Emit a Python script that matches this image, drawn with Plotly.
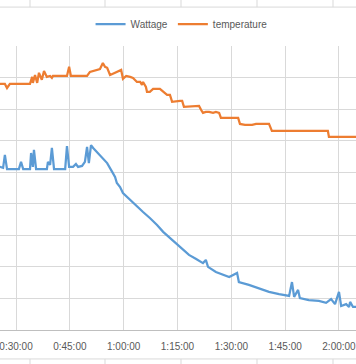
import plotly.graph_objects as go

# time in minutes since start
temp_time = [24.4, 25.5, 26.9, 27.5, 28.3, 33.9, 34.5, 34.7, 35.3, 35.9, 36.4,
             37.2, 37.8, 38.6, 39.5, 40.0, 40.3, 44.2, 44.8, 45.3, 49.8,
             50.6, 53.4, 54.2, 54.8, 55.4, 56.2, 57.0, 59.3, 59.8, 60.7,
             61.8, 62.6, 63.7, 64.6, 65.1, 65.4, 66.2, 66.5, 67.3, 68.2,
             70.1, 72.1, 72.9, 73.5, 75.7, 76.3, 76.8, 79.6, 81.0, 81.6,
             82.1, 82.9, 83.8, 84.9, 85.7, 86.6, 87.1, 91.9, 92.4, 93.8,
             95.8, 96.9, 98.0, 100.5, 101.3, 116.9, 117.2, 124.7, 125.9]
temperature = [78.0, 78.0, 78.0, 76.7, 78.0, 78.0, 80.2, 78.3, 80.8, 78.3, 81.5,
               79.3, 82.1, 80.2, 80.5, 79.9, 80.5, 80.5, 83.4, 80.5, 80.5,
               81.8, 82.7, 84.6, 83.4, 83.1, 80.8, 81.2, 82.4, 79.6, 80.5,
               80.2, 79.9, 78.6, 78.6, 77.7, 78.6, 77.0, 75.5, 75.5, 76.4,
               76.4, 74.5, 74.5, 72.3, 72.6, 72.6, 70.7, 71.0, 71.0, 69.7,
               68.8, 69.1, 69.1, 68.8, 69.1, 68.8, 67.2, 67.2, 65.3, 65.0,
               65.0, 65.3, 65.3, 65.3, 63.1, 63.1, 61.2, 61.2, 61.2]

watt_time = [24.7, 25.5, 26.4, 26.9, 27.5, 30.8, 31.4, 32.0, 33.9, 34.2, 34.7,
             35.0, 35.6, 38.6, 38.9, 39.5, 40.0, 40.6, 43.7, 44.2, 44.8,
             45.9, 46.7, 47.3, 48.4, 49.2, 49.8, 50.3, 50.9, 51.5, 53.4,
             55.4, 56.8, 57.3, 57.6, 58.1, 59.0, 59.8, 61.8, 63.7, 65.4,
             67.3, 69.3, 71.0, 72.9, 74.9, 76.5, 78.2, 80.2, 82.1, 82.9,
             83.5, 85.7, 87.7, 89.4, 91.6, 92.1, 94.9, 97.7, 100.5, 103.3,
             106.1, 106.9, 107.5, 108.6, 109.1, 111.6, 114.4, 116.4, 117.8, 118.9,
             120.0, 120.6, 122.0, 122.8, 123.1, 123.9, 124.7, 125.9]
wattage = [52.0, 51.7, 51.4, 55.5, 51.0, 51.0, 53.3, 51.0, 51.0, 56.1, 51.7,
           57.1, 51.0, 51.0, 53.3, 52.3, 57.7, 51.0, 51.0, 58.3, 51.7,
           51.7, 52.6, 51.7, 52.0, 53.3, 58.0, 52.9, 58.6, 57.7, 55.5,
           52.9, 50.1, 49.1, 48.5, 46.6, 45.3, 43.4, 41.2, 39.0, 37.4,
           35.5, 33.3, 31.1, 29.2, 27.0, 25.4, 23.8, 22.5, 21.2, 22.2,
           20.0, 18.4, 17.4, 16.8, 18.1, 15.2, 14.3, 13.3, 12.1, 11.4,
           10.8, 15.2, 10.5, 12.7, 10.1, 9.5, 9.2, 8.6, 9.8, 8.2,
           12.1, 7.6, 8.2, 7.3, 8.9, 7.3, 7.3, 7.6]

tick_vals = [30, 45, 60, 75, 90, 105, 120]
tick_labels = ["0:30:00", "0:45:00", "1:00:00", "1:15:00", "1:30:00", "1:45:00", "2:00:00"]

grid = "#D9D9D9"
textc = "#595959"

fig = go.Figure()
fig.add_trace(go.Scatter(x=watt_time, y=wattage, mode="lines", name="Wattage",
                         line=dict(color="#5B9BD5", width=2.25)))
fig.add_trace(go.Scatter(x=temp_time, y=temperature, mode="lines", name="temperature",
                         line=dict(color="#ED7D31", width=2.25)))

# neighbouring chart frames visible at the top and bottom edges of the crop
shapes = []
for yp in [1.137, -0.102]:
    shapes.append(dict(type="line", xref="paper", yref="paper", x0=0, x1=1, y0=yp, y1=yp,
                       line=dict(color=grid, width=1)))
for xp in [30, 105, 181, 257, 333]:
    shapes.append(dict(type="line", xref="paper", yref="paper", x0=xp / 356, x1=xp / 356,
                       y0=1.137, y1=1.2, line=dict(color=grid, width=1)))
    shapes.append(dict(type="line", xref="paper", yref="paper", x0=xp / 356, x1=xp / 356,
                       y0=-0.102, y1=-0.2, line=dict(color=grid, width=1)))

fig.update_layout(
    width=356, height=364,
    margin=dict(l=0, r=0, t=46, b=34, pad=0, autoexpand=False),
    paper_bgcolor="white", plot_bgcolor="white",
    font=dict(family="Liberation Sans, Arial, sans-serif", size=10, color=textc),
    showlegend=True,
    legend=dict(orientation="h", x=0.51, xanchor="center", y=1.077, yanchor="middle",
                font=dict(size=10, color=textc), bgcolor="rgba(0,0,0,0)"),
    xaxis=dict(range=[25.54, 124.74], tickvals=tick_vals, ticktext=tick_labels,
               showgrid=True, gridcolor=grid, gridwidth=1, zeroline=False,
               showline=True, linecolor="#BFBFBF", linewidth=1, automargin=False,
               ticks="", ticklabeloverflow="allow", ticklabelstandoff=7,
               tickfont=dict(size=10, color=textc)),
    yaxis=dict(range=[0, 90], dtick=10, showgrid=True, gridcolor=grid, gridwidth=1,
               zeroline=False, showticklabels=False, ticks="", showline=False,
               automargin=False),
    shapes=shapes,
)

fig.write_html("out.html", config={"displayModeBar": False},
               post_script="document.body.style.margin='0';document.body.style.overflow='hidden';")
